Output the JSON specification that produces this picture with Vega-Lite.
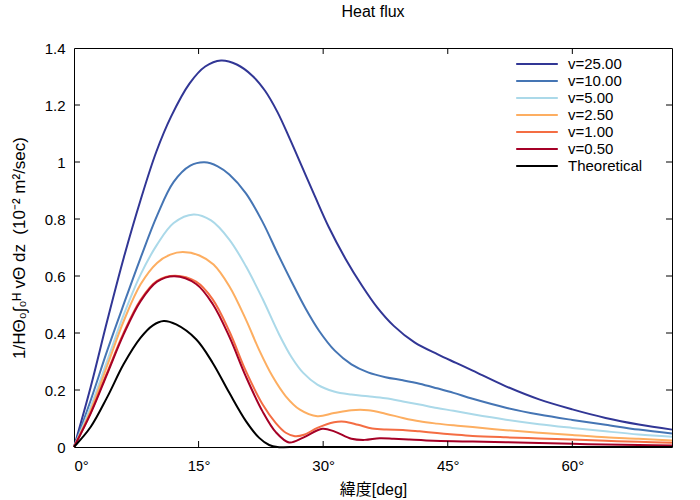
{
  "$schema": "https://vega.github.io/schema/vega-lite/v6.json",
  "description": "Heat flux by latitude for several v values",
  "width": 598,
  "height": 399,
  "autosize": {"type": "none"},
  "padding": {"left": 74, "top": 48, "right": 28, "bottom": 53},
  "background": "white",
  "title": {"text": "Heat flux", "font": "Liberation Sans", "fontSize": 16, "fontWeight": "normal", "color": "black", "anchor": "middle", "offset": 21},
  "config": {
    "view": {"stroke": "black", "strokeWidth": 1},
    "axis": {
      "domain": false,
      "grid": false,
      "tickSize": 0,
      "labelFont": "Liberation Sans",
      "labelFontSize": 15,
      "labelColor": "black",
      "titleFont": "Liberation Sans, Noto Sans CJK JP",
      "titleFontSize": 16,
      "titleFontWeight": "normal",
      "titleColor": "black"
    }
  },
  "datasets": {
    "xticks": [{"lat": 15}, {"lat": 30}, {"lat": 45}, {"lat": 60}],
    "yticks": [{"flux": 0.2}, {"flux": 0.4}, {"flux": 0.6}, {"flux": 0.8}, {"flux": 1}, {"flux": 1.2}],
    "curves": [
      {"series": "v=25.00", "lat": 0, "flux": 0},
      {"series": "v=25.00", "lat": 2, "flux": 0.21},
      {"series": "v=25.00", "lat": 4, "flux": 0.443},
      {"series": "v=25.00", "lat": 6, "flux": 0.665},
      {"series": "v=25.00", "lat": 8, "flux": 0.865},
      {"series": "v=25.00", "lat": 9.9, "flux": 1.035},
      {"series": "v=25.00", "lat": 11.7, "flux": 1.16},
      {"series": "v=25.00", "lat": 13.9, "flux": 1.275},
      {"series": "v=25.00", "lat": 15.8, "flux": 1.335},
      {"series": "v=25.00", "lat": 17.7, "flux": 1.356},
      {"series": "v=25.00", "lat": 19.6, "flux": 1.342},
      {"series": "v=25.00", "lat": 21.5, "flux": 1.302},
      {"series": "v=25.00", "lat": 23, "flux": 1.25},
      {"series": "v=25.00", "lat": 24.5, "flux": 1.175},
      {"series": "v=25.00", "lat": 26, "flux": 1.08},
      {"series": "v=25.00", "lat": 27.5, "flux": 0.98},
      {"series": "v=25.00", "lat": 29, "flux": 0.88},
      {"series": "v=25.00", "lat": 30.7, "flux": 0.77},
      {"series": "v=25.00", "lat": 32.7, "flux": 0.66},
      {"series": "v=25.00", "lat": 34.7, "flux": 0.565},
      {"series": "v=25.00", "lat": 36.5, "flux": 0.49},
      {"series": "v=25.00", "lat": 38.5, "flux": 0.425},
      {"series": "v=25.00", "lat": 41, "flux": 0.367},
      {"series": "v=25.00", "lat": 43.8, "flux": 0.325},
      {"series": "v=25.00", "lat": 46, "flux": 0.295},
      {"series": "v=25.00", "lat": 48, "flux": 0.268},
      {"series": "v=25.00", "lat": 52, "flux": 0.213},
      {"series": "v=25.00", "lat": 56, "flux": 0.167},
      {"series": "v=25.00", "lat": 60, "flux": 0.132},
      {"series": "v=25.00", "lat": 64, "flux": 0.102},
      {"series": "v=25.00", "lat": 68, "flux": 0.079},
      {"series": "v=25.00", "lat": 72, "flux": 0.061},

      {"series": "v=10.00", "lat": 0, "flux": 0},
      {"series": "v=10.00", "lat": 2, "flux": 0.163},
      {"series": "v=10.00", "lat": 4, "flux": 0.338},
      {"series": "v=10.00", "lat": 6, "flux": 0.502},
      {"series": "v=10.00", "lat": 8, "flux": 0.662},
      {"series": "v=10.00", "lat": 10, "flux": 0.812},
      {"series": "v=10.00", "lat": 12, "flux": 0.93},
      {"series": "v=10.00", "lat": 14, "flux": 0.987},
      {"series": "v=10.00", "lat": 15.7, "flux": 0.999},
      {"series": "v=10.00", "lat": 17.3, "flux": 0.985},
      {"series": "v=10.00", "lat": 18.7, "flux": 0.956},
      {"series": "v=10.00", "lat": 20.7, "flux": 0.89},
      {"series": "v=10.00", "lat": 22.7, "flux": 0.79},
      {"series": "v=10.00", "lat": 24.5, "flux": 0.68},
      {"series": "v=10.00", "lat": 26.2, "flux": 0.58},
      {"series": "v=10.00", "lat": 27.9, "flux": 0.485},
      {"series": "v=10.00", "lat": 29.5, "flux": 0.408},
      {"series": "v=10.00", "lat": 31.4, "flux": 0.338},
      {"series": "v=10.00", "lat": 33.4, "flux": 0.29},
      {"series": "v=10.00", "lat": 35.4, "flux": 0.262},
      {"series": "v=10.00", "lat": 37.5, "flux": 0.245},
      {"series": "v=10.00", "lat": 39.6, "flux": 0.234},
      {"series": "v=10.00", "lat": 41.6, "flux": 0.222},
      {"series": "v=10.00", "lat": 43.7, "flux": 0.206},
      {"series": "v=10.00", "lat": 45.7, "flux": 0.19},
      {"series": "v=10.00", "lat": 48, "flux": 0.169},
      {"series": "v=10.00", "lat": 52, "flux": 0.138},
      {"series": "v=10.00", "lat": 56, "flux": 0.114},
      {"series": "v=10.00", "lat": 60, "flux": 0.095},
      {"series": "v=10.00", "lat": 64, "flux": 0.078},
      {"series": "v=10.00", "lat": 68, "flux": 0.061},
      {"series": "v=10.00", "lat": 72, "flux": 0.047},

      {"series": "v=5.00", "lat": 0, "flux": 0},
      {"series": "v=5.00", "lat": 2, "flux": 0.14},
      {"series": "v=5.00", "lat": 4, "flux": 0.303},
      {"series": "v=5.00", "lat": 6, "flux": 0.465},
      {"series": "v=5.00", "lat": 8, "flux": 0.604},
      {"series": "v=5.00", "lat": 10, "flux": 0.71},
      {"series": "v=5.00", "lat": 12, "flux": 0.786},
      {"series": "v=5.00", "lat": 14.4, "flux": 0.816},
      {"series": "v=5.00", "lat": 16.5, "flux": 0.795},
      {"series": "v=5.00", "lat": 18.7, "flux": 0.728},
      {"series": "v=5.00", "lat": 20.7, "flux": 0.634},
      {"series": "v=5.00", "lat": 22.7, "flux": 0.52},
      {"series": "v=5.00", "lat": 24.7, "flux": 0.395},
      {"series": "v=5.00", "lat": 26.2, "flux": 0.315},
      {"series": "v=5.00", "lat": 27.6, "flux": 0.26},
      {"series": "v=5.00", "lat": 29.3, "flux": 0.219},
      {"series": "v=5.00", "lat": 31.3, "flux": 0.195},
      {"series": "v=5.00", "lat": 33.4, "flux": 0.184},
      {"series": "v=5.00", "lat": 35.4, "flux": 0.178},
      {"series": "v=5.00", "lat": 37.5, "flux": 0.171},
      {"series": "v=5.00", "lat": 39.6, "flux": 0.16},
      {"series": "v=5.00", "lat": 41.6, "flux": 0.149},
      {"series": "v=5.00", "lat": 43.7, "flux": 0.137},
      {"series": "v=5.00", "lat": 45.7, "flux": 0.127},
      {"series": "v=5.00", "lat": 48, "flux": 0.115},
      {"series": "v=5.00", "lat": 52, "flux": 0.096},
      {"series": "v=5.00", "lat": 56, "flux": 0.08},
      {"series": "v=5.00", "lat": 60, "flux": 0.067},
      {"series": "v=5.00", "lat": 64, "flux": 0.055},
      {"series": "v=5.00", "lat": 68, "flux": 0.044},
      {"series": "v=5.00", "lat": 72, "flux": 0.036},

      {"series": "v=2.50", "lat": 0, "flux": 0},
      {"series": "v=2.50", "lat": 2, "flux": 0.128},
      {"series": "v=2.50", "lat": 4, "flux": 0.286},
      {"series": "v=2.50", "lat": 6, "flux": 0.443},
      {"series": "v=2.50", "lat": 8, "flux": 0.57},
      {"series": "v=2.50", "lat": 10, "flux": 0.646},
      {"series": "v=2.50", "lat": 11.6, "flux": 0.675},
      {"series": "v=2.50", "lat": 13.1, "flux": 0.684},
      {"series": "v=2.50", "lat": 15.1, "flux": 0.672},
      {"series": "v=2.50", "lat": 16.8, "flux": 0.64},
      {"series": "v=2.50", "lat": 18.7, "flux": 0.564},
      {"series": "v=2.50", "lat": 20.7, "flux": 0.447},
      {"series": "v=2.50", "lat": 22.3, "flux": 0.34},
      {"series": "v=2.50", "lat": 23.9, "flux": 0.248},
      {"series": "v=2.50", "lat": 25.5, "flux": 0.178},
      {"series": "v=2.50", "lat": 27.2, "flux": 0.131},
      {"series": "v=2.50", "lat": 29.3, "flux": 0.108},
      {"series": "v=2.50", "lat": 31.3, "flux": 0.119},
      {"series": "v=2.50", "lat": 33.4, "flux": 0.129},
      {"series": "v=2.50", "lat": 35.4, "flux": 0.129},
      {"series": "v=2.50", "lat": 37.5, "flux": 0.117},
      {"series": "v=2.50", "lat": 39.6, "flux": 0.102},
      {"series": "v=2.50", "lat": 41.6, "flux": 0.09},
      {"series": "v=2.50", "lat": 43.7, "flux": 0.082},
      {"series": "v=2.50", "lat": 45.7, "flux": 0.076},
      {"series": "v=2.50", "lat": 48, "flux": 0.07},
      {"series": "v=2.50", "lat": 52, "flux": 0.059},
      {"series": "v=2.50", "lat": 56, "flux": 0.05},
      {"series": "v=2.50", "lat": 60, "flux": 0.042},
      {"series": "v=2.50", "lat": 64, "flux": 0.034},
      {"series": "v=2.50", "lat": 68, "flux": 0.029},
      {"series": "v=2.50", "lat": 72, "flux": 0.023},

      {"series": "v=1.00", "lat": 0, "flux": 0},
      {"series": "v=1.00", "lat": 2, "flux": 0.12},
      {"series": "v=1.00", "lat": 4, "flux": 0.262},
      {"series": "v=1.00", "lat": 6, "flux": 0.402},
      {"series": "v=1.00", "lat": 8, "flux": 0.516},
      {"series": "v=1.00", "lat": 10, "flux": 0.583},
      {"series": "v=1.00", "lat": 12.2, "flux": 0.601},
      {"series": "v=1.00", "lat": 14.7, "flux": 0.58},
      {"series": "v=1.00", "lat": 16.7, "flux": 0.518},
      {"series": "v=1.00", "lat": 18.7, "flux": 0.406},
      {"series": "v=1.00", "lat": 20.7, "flux": 0.266},
      {"series": "v=1.00", "lat": 22.7, "flux": 0.15},
      {"series": "v=1.00", "lat": 24.3, "flux": 0.084},
      {"series": "v=1.00", "lat": 25.5, "flux": 0.05},
      {"series": "v=1.00", "lat": 26.6, "flux": 0.038},
      {"series": "v=1.00", "lat": 27.7, "flux": 0.043},
      {"series": "v=1.00", "lat": 29.3, "flux": 0.067},
      {"series": "v=1.00", "lat": 31.3, "flux": 0.087},
      {"series": "v=1.00", "lat": 32.6, "flux": 0.089},
      {"series": "v=1.00", "lat": 34.2, "flux": 0.078},
      {"series": "v=1.00", "lat": 35.9, "flux": 0.065},
      {"series": "v=1.00", "lat": 37.6, "flux": 0.061},
      {"series": "v=1.00", "lat": 39.6, "flux": 0.06},
      {"series": "v=1.00", "lat": 41.6, "flux": 0.055},
      {"series": "v=1.00", "lat": 43.7, "flux": 0.049},
      {"series": "v=1.00", "lat": 45.7, "flux": 0.044},
      {"series": "v=1.00", "lat": 48, "flux": 0.039},
      {"series": "v=1.00", "lat": 52, "flux": 0.034},
      {"series": "v=1.00", "lat": 56, "flux": 0.03},
      {"series": "v=1.00", "lat": 60, "flux": 0.026},
      {"series": "v=1.00", "lat": 64, "flux": 0.022},
      {"series": "v=1.00", "lat": 68, "flux": 0.018},
      {"series": "v=1.00", "lat": 72, "flux": 0.015},

      {"series": "v=0.50", "lat": 0, "flux": 0},
      {"series": "v=0.50", "lat": 2, "flux": 0.117},
      {"series": "v=0.50", "lat": 4, "flux": 0.257},
      {"series": "v=0.50", "lat": 6, "flux": 0.397},
      {"series": "v=0.50", "lat": 8, "flux": 0.511},
      {"series": "v=0.50", "lat": 10, "flux": 0.58},
      {"series": "v=0.50", "lat": 12.1, "flux": 0.599},
      {"series": "v=0.50", "lat": 14.7, "flux": 0.572},
      {"series": "v=0.50", "lat": 16.7, "flux": 0.502},
      {"series": "v=0.50", "lat": 18.7, "flux": 0.387},
      {"series": "v=0.50", "lat": 20.7, "flux": 0.247},
      {"series": "v=0.50", "lat": 22.7, "flux": 0.125},
      {"series": "v=0.50", "lat": 24.3, "flux": 0.052},
      {"series": "v=0.50", "lat": 25.9, "flux": 0.016},
      {"series": "v=0.50", "lat": 27.6, "flux": 0.033},
      {"series": "v=0.50", "lat": 29.9, "flux": 0.064},
      {"series": "v=0.50", "lat": 31.4, "flux": 0.054},
      {"series": "v=0.50", "lat": 33.4, "flux": 0.029},
      {"series": "v=0.50", "lat": 35, "flux": 0.025},
      {"series": "v=0.50", "lat": 36.8, "flux": 0.031},
      {"series": "v=0.50", "lat": 38.5, "flux": 0.029},
      {"series": "v=0.50", "lat": 40.4, "flux": 0.026},
      {"series": "v=0.50", "lat": 42.4, "flux": 0.023},
      {"series": "v=0.50", "lat": 45.7, "flux": 0.02},
      {"series": "v=0.50", "lat": 48, "flux": 0.019},
      {"series": "v=0.50", "lat": 52, "flux": 0.017},
      {"series": "v=0.50", "lat": 56, "flux": 0.014},
      {"series": "v=0.50", "lat": 60, "flux": 0.011},
      {"series": "v=0.50", "lat": 64, "flux": 0.009},
      {"series": "v=0.50", "lat": 68, "flux": 0.007},
      {"series": "v=0.50", "lat": 72, "flux": 0.005},

      {"series": "Theoretical", "lat": 0, "flux": 0},
      {"series": "Theoretical", "lat": 2, "flux": 0.07},
      {"series": "Theoretical", "lat": 4, "flux": 0.175},
      {"series": "Theoretical", "lat": 6, "flux": 0.292},
      {"series": "Theoretical", "lat": 8, "flux": 0.383},
      {"series": "Theoretical", "lat": 9.5, "flux": 0.427},
      {"series": "Theoretical", "lat": 10.8, "flux": 0.442},
      {"series": "Theoretical", "lat": 12.3, "flux": 0.43},
      {"series": "Theoretical", "lat": 14.7, "flux": 0.378},
      {"series": "Theoretical", "lat": 16.7, "flux": 0.295},
      {"series": "Theoretical", "lat": 18.7, "flux": 0.19},
      {"series": "Theoretical", "lat": 20.7, "flux": 0.091},
      {"series": "Theoretical", "lat": 22.3, "flux": 0.032},
      {"series": "Theoretical", "lat": 23.5, "flux": 0.007},
      {"series": "Theoretical", "lat": 24.5, "flux": 0},
      {"series": "Theoretical", "lat": 26, "flux": 0},
      {"series": "Theoretical", "lat": 72, "flux": 0}
    ]
  },
  "layer": [
    {
      "data": {"name": "curves"},
      "mark": {"type": "line", "interpolate": "catmull-rom", "strokeWidth": 2},
      "encoding": {
        "x": {
          "field": "lat",
          "type": "quantitative",
          "scale": {"domain": [0, 72], "nice": false},
          "axis": {
            "values": [0, 15, 30, 45, 60],
            "labelExpr": "datum.value + '°'",
            "labelPadding": 11,
            "title": "緯度[deg]",
            "titlePadding": 8
          }
        },
        "y": {
          "field": "flux",
          "type": "quantitative",
          "scale": {"domain": [0, 1.4], "nice": false},
          "axis": {
            "values": [0, 0.2, 0.4, 0.6, 0.8, 1, 1.2, 1.4],
            "format": "~g",
            "labelPadding": 9,
            "title": "1/HΘ₀∫₀ᴴ vΘ dz\u00a0\u00a0(10⁻² m²/sec)",
            "titleFontSize": 17,
            "titlePadding": 16
          }
        },
        "color": {
          "field": "series",
          "type": "nominal",
          "scale": {
            "domain": ["v=25.00", "v=10.00", "v=5.00", "v=2.50", "v=1.00", "v=0.50", "Theoretical"],
            "range": ["#313695", "#4575b4", "#abd9e9", "#fdae61", "#f46d43", "#a50026", "#000000"]
          },
          "legend": {
            "title": null,
            "orient": "none",
            "legendX": 454,
            "legendY": 7,
            "symbolType": "M-2.6,0H2.6",
            "symbolSize": 256,
            "symbolStrokeWidth": 2,
            "symbolFillColor": "transparent",
            "labelFont": "Liberation Sans",
            "labelFontSize": 15,
            "labelColor": "black",
            "labelOffset": 22,
            "rowPadding": 0
          }
        }
      }
    },
    {
      "data": {"name": "xticks"},
      "mark": {"type": "rule", "color": "black", "strokeWidth": 1},
      "encoding": {
        "x": {"field": "lat", "type": "quantitative", "title": "緯度[deg]"},
        "y": {"datum": 0},
        "y2": {"datum": 0.021}
      }
    },
    {
      "data": {"name": "xticks"},
      "mark": {"type": "rule", "color": "black", "strokeWidth": 1},
      "encoding": {
        "x": {"field": "lat", "type": "quantitative", "title": "緯度[deg]"},
        "y": {"datum": 1.4},
        "y2": {"datum": 1.379}
      }
    },
    {
      "data": {"name": "yticks"},
      "mark": {"type": "rule", "color": "black", "strokeWidth": 1},
      "encoding": {
        "y": {"field": "flux", "type": "quantitative", "title": "1/HΘ₀∫₀ᴴ vΘ dz\u00a0\u00a0(10⁻² m²/sec)"},
        "x": {"datum": 0},
        "x2": {"datum": 0.72}
      }
    },
    {
      "data": {"name": "yticks"},
      "mark": {"type": "rule", "color": "black", "strokeWidth": 1},
      "encoding": {
        "y": {"field": "flux", "type": "quantitative", "title": "1/HΘ₀∫₀ᴴ vΘ dz\u00a0\u00a0(10⁻² m²/sec)"},
        "x": {"datum": 72},
        "x2": {"datum": 71.28}
      }
    }
  ]
}
